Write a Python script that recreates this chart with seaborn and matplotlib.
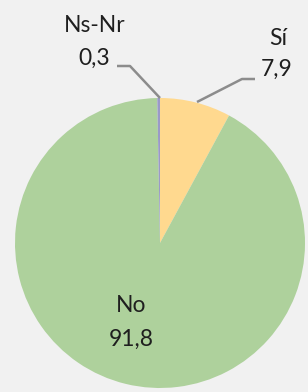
import matplotlib
matplotlib.use("Agg")
import matplotlib.pyplot as plt
import seaborn as sns

# Data (clockwise from 12 o'clock)
labels = ["Sí", "No", "Ns-Nr"]
values = [7.9, 91.8, 0.3]
value_text = ["7,9", "91,8", "0,3"]
colors = ["#ffd98f", "#aed19c", "#9a9ac8"]

sns.set_style("white")
plt.rcParams["font.family"] = ["Lato", "DejaVu Sans"]

W, H = 308, 392
fig = plt.figure(figsize=(W / 100, H / 100), dpi=100)
fig.patch.set_facecolor("#f1f1f1")
ax = fig.add_axes([0.0, 0.0, 1.0, 1.0])
ax.set_facecolor("#f1f1f1")


def fy(y):
    # pixel row (from top) -> data y
    return H - y


ax.pie(values, colors=colors, startangle=90, counterclock=False,
       center=(160, fy(243)), radius=145, frame=True,
       wedgeprops=dict(linewidth=0))

ax.set_xlim(0, W)
ax.set_ylim(0, H)
ax.set_aspect("equal")
ax.axis("off")

txt = dict(fontsize=16.5, color="#1f1f1f", ha="center", va="center")
line = dict(color="#8c8c8c", lw=1.8, solid_capstyle="butt")

# Sí label + leader
ax.text(278, fy(38), labels[0], **txt)
ax.text(277, fy(69), value_text[0], **txt)
ax.plot([255, 242, 197], [fy(79), fy(79), fy(102)], **line)

# Ns-Nr label + leader
ax.text(95, fy(25), labels[2], **txt)
ax.text(94, fy(58), value_text[2], **txt)
ax.plot([117, 130, 160], [fy(66), fy(66), fy(98)], **line)

# No label inside
ax.text(131, fy(305), labels[1], **txt)
ax.text(131, fy(339), value_text[1], **txt)

fig.savefig("out.png", dpi=100, facecolor=fig.get_facecolor())
